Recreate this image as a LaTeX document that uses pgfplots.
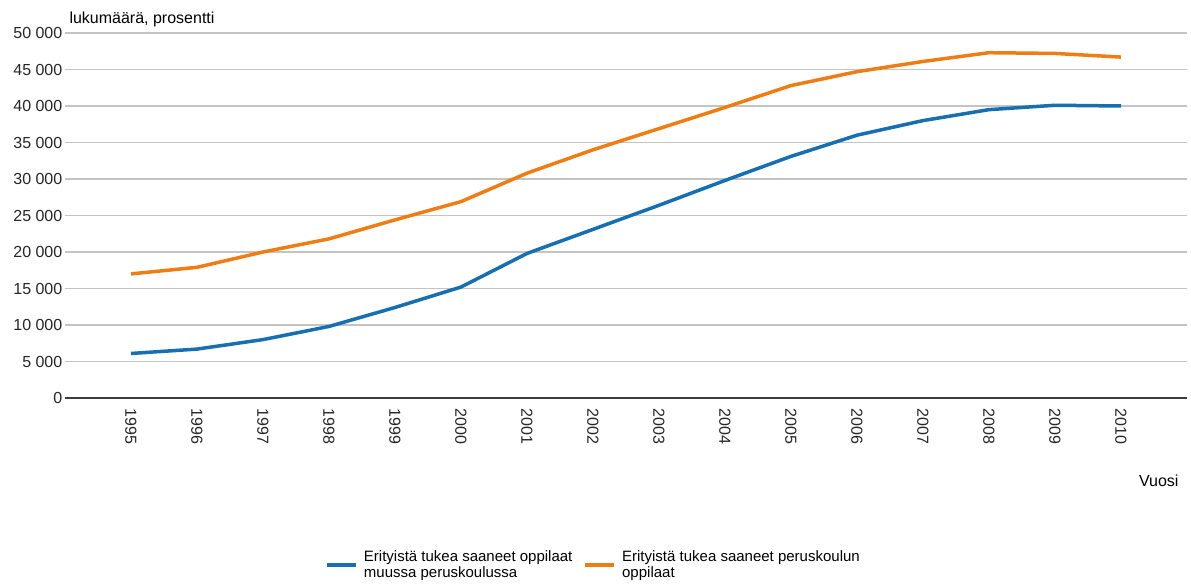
\documentclass[border=0pt]{standalone}
\usepackage{fontspec}
\setmainfont{Liberation Sans}
\usepackage{pgfplots}
\pgfplotsset{compat=1.18}
\definecolor{cblue}{RGB}{23,111,176}
\definecolor{corange}{RGB}{238,125,22}
\definecolor{cgrid}{RGB}{196,196,196}
\definecolor{caxis}{RGB}{60,60,60}
\pgfplotstableread{
year blue orange
1995 6100 17000
1996 6700 17900
1997 8000 20000
1998 9800 21800
1999 12400 24400
2000 15200 26900
2001 19800 30800
2002 23100 34000
2003 26400 36900
2004 29800 39800
2005 33100 42800
2006 36000 44700
2007 38000 46100
2008 39500 47300
2009 40100 47200
2010 40000 46700
}\datatable
\begin{document}
\begin{tikzpicture}
\begin{axis}[
  name=ax,
  scale only axis,
  width=1122bp, height=365bp,
  xmin=1994, xmax=2011,
  ymin=0, ymax=50000,
  xtick={1995,...,2010},
  xticklabels={1995,1996,1997,1998,1999,2000,2001,2002,2003,2004,2005,2006,2007,2008,2009,2010},
  ytick={0,5000,...,50000},
  yticklabels={0,5 000,10 000,15 000,20 000,25 000,30 000,35 000,40 000,45 000,50 000},
  scaled y ticks=false,
  axis x line*=bottom,
  axis y line*=left,
  y axis line style={draw=none},
  x axis line style={draw=caxis, line width=1.8bp},
  tick style={draw=none},
  ymajorgrids,
  major grid style={draw=cgrid, line width=1.4bp},
  tick label style={font=\fontsize{16bp}{19bp}\selectfont, text=black!85},
  xticklabel style={rotate=-90, anchor=west},
  xticklabel shift=7bp,
  yticklabel style={inner sep=2.5bp},
  every axis y label/.style={at={(axis description cs:0,1)}, anchor=base west, xshift=1bp, yshift=9bp, font=\fontsize{16bp}{19bp}\selectfont},
  ylabel={lukumäärä, prosentti},
  every axis x label/.style={at={(axis description cs:1,0)}, anchor=base east, xshift=-5bp, yshift=-88bp, font=\fontsize{16bp}{19bp}\selectfont},
  xlabel={Vuosi},
  legend columns=2,
  legend cell align=left,
  legend style={at={(axis description cs:0,0)}, anchor=north west, xshift=260bp, yshift=-150bp,
    draw=none, inner sep=0pt, font=\fontsize{15bp}{16.5bp}\selectfont,
    cells={align=left},
    /tikz/every even column/.append style={column sep=9bp}},
  legend image code/.code={\draw[#1, line width=4bp] (0bp,0bp) -- (29bp,0bp); \path (33bp,0bp);},
]
\addplot[cblue, line width=3.5bp] table[x=year, y=blue] {\datatable};
\addlegendentry{Erityistä tukea saaneet oppilaat\\muussa peruskoulussa}
\addplot[corange, line width=3.5bp] table[x=year, y=orange] {\datatable};
\addlegendentry{Erityistä tukea saaneet peruskoulun\\oppilaat}
\end{axis}
\pgfresetboundingbox
\path[use as bounding box] ([xshift=-65bp,yshift=-185bp]ax.south west) rectangle ([xshift=4bp,yshift=33bp]ax.north east);
\end{tikzpicture}
\end{document}
